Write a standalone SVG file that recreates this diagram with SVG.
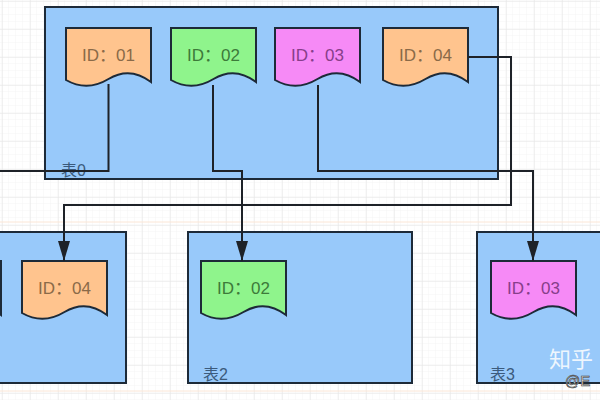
<svg xmlns="http://www.w3.org/2000/svg" width="600" height="400" viewBox="0 0 600 400">
<defs>
<pattern id="gmin" x="2" y="1" width="7" height="7" patternUnits="userSpaceOnUse">
<path d="M7,0 V7 M0,7 H7" stroke="#f4f4f4" stroke-width="1" fill="none"/>
</pattern>
<pattern id="gmaj" x="2" y="1" width="28" height="28" patternUnits="userSpaceOnUse">
<path d="M0,0 V28 M0,0 H28" stroke="#e4e4e4" stroke-width="1" fill="none"/>
</pattern>
<path id="doc" d="M0,0 H85 V54 Q64,38 42.5,51 Q21,64 0,52 Z"/>
<marker id="arrB" viewBox="0 0 20 12" refX="20" refY="6" markerWidth="20" markerHeight="12" markerUnits="userSpaceOnUse" orient="auto">
<path d="M0,0 L20,6 L0,12 Z" fill="#1e2228"/>
</marker>
</defs>
<style>
.tbl{fill:#98c9fa;stroke:#1d2a38;stroke-width:2}
.d{stroke:#1d2a38;stroke-width:2}
.or{fill:#ffc48e}
.gr{fill:#8ff48c}
.pk{fill:#f68af6}
.t{font-family:"Liberation Sans","Noto Sans CJK SC",sans-serif;font-size:17px;text-anchor:middle}
.to{fill:#8a6a48}
.tg{fill:#3d7a3a}
.tp{fill:#873e8a}
.lbl{font-family:"Liberation Sans","Noto Sans CJK SC",sans-serif;font-size:16px;fill:#3b5a7c}
.c{fill:none;stroke:#1e2228;stroke-width:2}
</style>
<rect width="600" height="400" fill="#ffffff"/>
<rect width="600" height="400" fill="url(#gmin)"/>
<rect width="600" height="400" fill="url(#gmaj)"/>
<line x1="0" y1="222" x2="600" y2="222" stroke="#fbe6d6" stroke-width="1"/>
<line x1="0" y1="391" x2="600" y2="391" stroke="#fbe6d6" stroke-width="1"/>

<g id="table0">
<rect class="tbl" x="45" y="7" width="453" height="172"/>
<text class="lbl" x="61" y="176">表0</text>
</g>
<g id="table1">
<rect class="tbl" x="-10" y="232" width="136" height="151"/>
</g>
<g id="table2">
<rect class="tbl" x="188" y="232" width="224" height="151"/>
<text class="lbl" x="203" y="380">表2</text>
</g>
<g id="table3">
<rect class="tbl" x="477" y="232" width="140" height="151"/>
<text class="lbl" x="490" y="380">表3</text>
</g>

<g id="t0-id01"><use href="#doc" class="d or" x="66" y="28"/><text class="t to" x="108.5" y="61">ID：01</text></g>
<g id="t0-id02"><use href="#doc" class="d gr" x="171" y="28"/><text class="t tg" x="213.5" y="61">ID：02</text></g>
<g id="t0-id03"><use href="#doc" class="d pk" x="275" y="28"/><text class="t tp" x="317.5" y="61">ID：03</text></g>
<g id="t0-id04"><use href="#doc" class="d or" x="383" y="28"/><text class="t to" x="425.5" y="61">ID：04</text></g>

<g id="t1-id01"><use href="#doc" class="d or" x="-84" y="261"/></g>
<g id="t1-id04"><use href="#doc" class="d or" x="22" y="261"/><text class="t to" x="64.5" y="294">ID：04</text></g>
<g id="t2-id02"><use href="#doc" class="d gr" x="201" y="261"/><text class="t tg" x="243.5" y="294">ID：02</text></g>
<g id="t3-id03"><use href="#doc" class="d pk" x="491" y="261"/><text class="t tp" x="533.5" y="294">ID：03</text></g>

<g id="connectors">
<path class="c" d="M108.5,84 V171 H-5"/>
<path class="c" d="M213,85 V171 H242 V261" marker-end="url(#arrB)"/>
<path class="c" d="M318,85 V171 H533 V261" marker-end="url(#arrB)"/>
<path class="c" d="M468,57 H511 V205 H64 V261" marker-end="url(#arrB)"/>
</g>

<g id="watermark">
<text x="549" y="367" font-family="'Noto Sans CJK SC',sans-serif" font-size="22" fill="#ffffff" fill-opacity="0.85">知乎</text>
<text x="565" y="386" font-family="'Liberation Sans',sans-serif" font-size="15" fill="#ffffff" stroke="#333" stroke-width="0.6">@E</text>
</g>
</svg>
